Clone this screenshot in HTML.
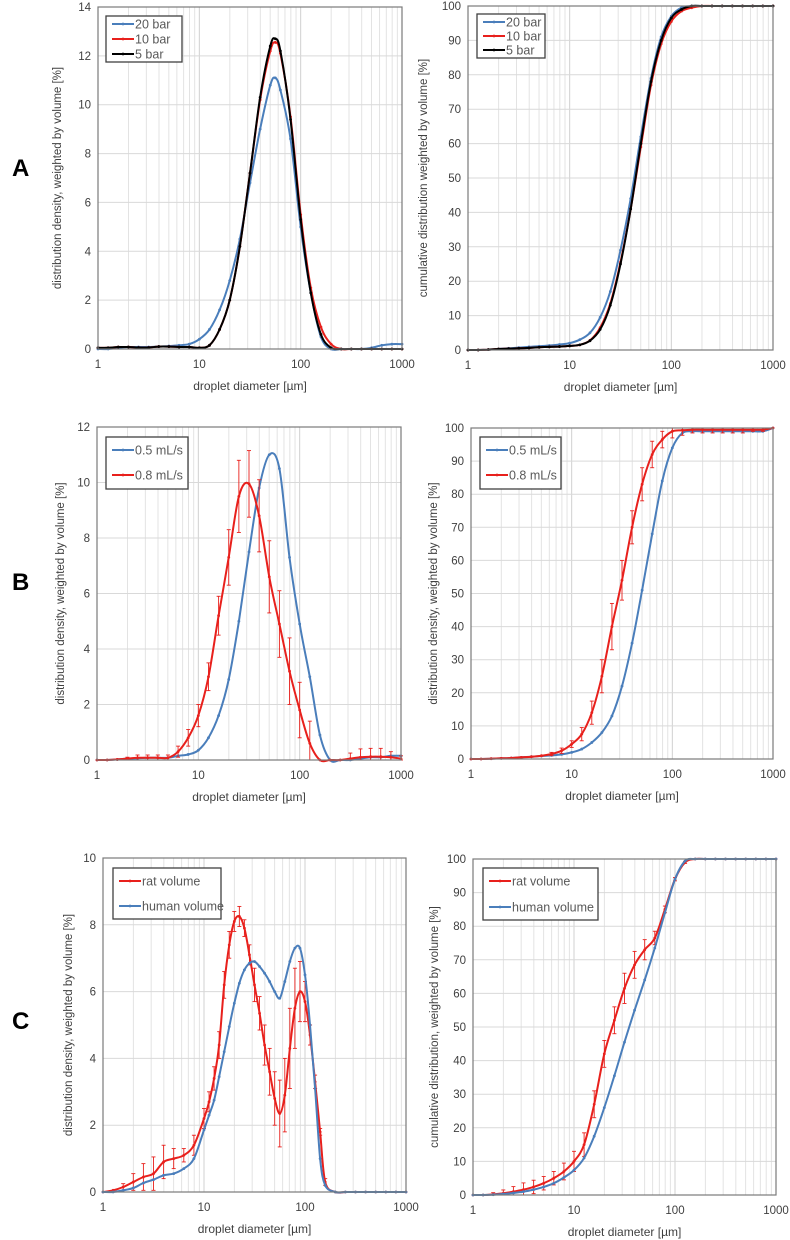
<!DOCTYPE html>
<html><head><meta charset="utf-8">
<style>
body{margin:0;background:#fff;}
svg{display:block;font-family:"Liberation Sans",sans-serif;}
</style></head>
<body>
<svg id="fig" width="790" height="1240" viewBox="0 0 790 1240" xmlns="http://www.w3.org/2000/svg">
<text x="12" y="176" font-size="24" font-weight="bold">A</text>
<text x="12" y="590" font-size="24" font-weight="bold">B</text>
<text x="12" y="1029" font-size="24" font-weight="bold">C</text>
</svg>
<script>
// ---------- data (x in log10 of droplet diameter [µm]) ----------
const logD_A1 = [0,.1,.2,.3,.4,.5,.6,.7,.8,.9,1.0,1.1,1.2,1.3,1.4,1.5,1.6,1.7,1.75,1.8,1.9,2.0,2.1,2.2,2.3,2.4,2.5,2.6,2.7,2.8,2.9,3.0];
const a1_20bar = [0,0,.05,.08,.08,.08,.1,.12,.15,.2,.4,.8,1.6,2.8,4.5,6.8,9.0,10.8,11.1,10.6,8.6,5.0,2.3,.5,0,0,0,0,.05,.15,.2,.2];
const a1_10bar = [.05,.05,.08,.08,.06,.06,.1,.1,.08,.08,.05,.15,.8,2.0,4.2,7.2,10.2,12.2,12.55,12.1,9.5,5.5,2.5,.9,.2,0,0,0,0,0,0,0];
const a1_5bar  = [.05,.05,.08,.08,.06,.06,.1,.1,.08,.08,.05,.15,.8,2.0,4.2,7.2,10.3,12.4,12.7,12.2,9.4,5.3,2.3,.6,.05,0,0,0,0,0,0,0];

const logD = [0,.1,.2,.3,.4,.5,.6,.7,.8,.9,1.0,1.1,1.2,1.3,1.4,1.5,1.6,1.7,1.8,1.9,2.0,2.1,2.2,2.3,2.4,2.5,2.6,2.7,2.8,2.9,3.0];
const a2_20bar = [0,0,.1,.3,.5,.7,.9,1.1,1.3,1.6,2.0,3.0,5.0,9.5,17,29,44,62,79,91,97,99.5,100,100,100,100,100,100,100,100,100];
const a2_10bar = [0,0,.1,.3,.4,.5,.6,.8,.9,1.0,1.2,1.5,2.8,6.5,13.5,25.5,41,59,77,89,95.5,98.5,99.5,100,100,100,100,100,100,100,100];
const a2_5bar  = [0,0,.1,.3,.4,.5,.6,.8,.9,1.0,1.2,1.5,2.7,6,13,25,41,60,78,90,96.5,99,100,100,100,100,100,100,100,100,100];

const b1_05 = [0,0,.02,.05,.06,.08,.08,.08,.15,.2,.35,.8,1.6,2.9,5.0,7.5,9.8,11.0,10.5,7.3,4.9,3.0,.9,0,0,0,.05,.1,.1,.15,.15];
const b1_08 = [0,0,.02,.05,.08,.08,.08,.08,.3,.8,1.6,3.0,5.2,7.3,9.5,9.95,8.8,6.6,4.9,3.2,1.8,.6,0,0,0,.05,.1,.12,.12,.1,.05];
const b1_08err = [0,0,0,.05,.1,.1,.1,.1,.2,.3,.4,.5,.7,1.0,1.3,1.2,1.3,1.3,1.2,1.2,1.0,.8,0,0,0,.2,.3,.3,.3,.2,.1];

const b2_05 = [0,0,.1,.2,.3,.5,.7,.9,1.1,1.4,2,3,5,8,13,22,35,51,68,84,94,98.5,99,99,99,99,99,99,99,99,100];
const b2_08 = [0,0,.1,.2,.3,.5,.7,1.0,1.5,2.5,4.5,7.5,14,25,40,54,70,83,92,96.5,99,99.3,99.5,99.5,99.5,99.5,99.5,99.5,99.5,99.5,100];
const b2_08err = [0,0,0,0,0,0,0,0,.5,.8,1,2,3.5,5,7,6,5,5,4,2.5,2,1.5,1,1,1,1,1,1,.5,.5,0];

const logD_C1 = [0,.1,.2,.3,.4,.5,.6,.7,.8,.9,1.0,1.05,1.1,1.15,1.2,1.25,1.3,1.35,1.4,1.45,1.5,1.55,1.6,1.65,1.7,1.75,1.8,1.85,1.9,1.95,2.0,2.05,2.1,2.15,2.2,2.3,2.4,2.5,2.6,2.7,2.8,2.9,3.0];
const c1_rat   = [0,.05,.15,.3,.45,.55,.9,1.0,1.1,1.4,2.2,2.7,3.4,4.4,6.2,7.4,8.1,8.25,7.9,7.1,6.2,5.35,4.4,3.6,2.8,2.35,2.9,4.3,5.5,6.0,5.7,4.7,3.3,1.8,.3,0,0,0,0,0,0,0,0];
const c1_human = [0,0,.05,.12,.27,.37,.5,.55,.7,1.0,1.86,2.3,2.75,3.45,4.2,4.95,5.65,6.25,6.65,6.85,6.9,6.75,6.55,6.3,6.0,5.8,6.3,6.9,7.3,7.3,6.5,5.0,3.1,1.0,.2,0,0,0,0,0,0,0,0];
const c1_raterr = [0,0,.1,.25,.4,.5,.5,.3,.2,.3,.3,.3,.35,.4,.4,.4,.3,.3,.25,.3,.5,.5,.6,.7,.8,1.0,1.1,1.2,1.2,.9,.6,.3,.2,.1,.1,0,0,0,0,0,0,0,0];

const c2_rat   = [0,0,.2,.5,1.0,1.6,2.4,3.5,5,7,10,15,27,42,52,61.5,68.5,73,76.5,85,94,99,100,100,100,100,100,100,100,100,100];
const c2_human = [0,0,.1,.3,.6,1.0,1.6,2.4,3.5,5.2,7.4,11,17.5,26,35.5,45.5,55,64,73.5,84,94,99.4,100,100,100,100,100,100,100,100,100];
const c2_raterr = [0,0,.5,1,1.5,2,2,2,2,2.5,3,3.5,4,4,4,4.5,4,3,2,1,.5,.3,0,0,0,0,0,0,0,0,0];

const xTickLabels = ["1","10","100","1000"];
const BLUE="#4a7ebb", RED="#e8201c", BLACK="#000";

// ---------- drawing ----------
const svg=document.getElementById('fig');
const NS="http://www.w3.org/2000/svg";
function mk(tag,attrs,parent){const e=document.createElementNS(NS,tag);for(const k in attrs)e.setAttribute(k,attrs[k]);(parent||svg).appendChild(e);return e;}
function smoothPath(pts){
  let d="M"+pts[0][0].toFixed(1)+","+pts[0][1].toFixed(1);
  for(let i=0;i<pts.length-1;i++){
    const p0=pts[i-1]||pts[i],p1=pts[i],p2=pts[i+1],p3=pts[i+2]||p2;
    const c1=[p1[0]+(p2[0]-p0[0])/6,p1[1]+(p2[1]-p0[1])/6];
    const c2=[p2[0]-(p3[0]-p1[0])/6,p2[1]-(p3[1]-p1[1])/6];
    d+=" C"+c1[0].toFixed(1)+","+c1[1].toFixed(1)+" "+c2[0].toFixed(1)+","+c2[1].toFixed(1)+" "+p2[0].toFixed(1)+","+p2[1].toFixed(1);
  }
  return d;
}
function panel(cfg){
  const g=mk('g',{});
  
  
  const {x0,x1,yt,yb,ymax,ystep}=cfg;
  const X=v=>x0+(x1-x0)*v/3;
  const Y=v=>yb-(yb-yt)*v/ymax;
  // grid
  for(let dec=0;dec<3;dec++){for(let m=2;m<=9;m++){const x=X(dec+Math.log10(m));
    mk('line',{x1:x,x2:x,y1:yt,y2:yb,stroke:"#e3e3e3","stroke-width":1},g);}}
  for(let dec=1;dec<3;dec++){const x=X(dec);mk('line',{x1:x,x2:x,y1:yt,y2:yb,stroke:"#d0d0d0","stroke-width":1},g);}
  for(let v=ystep;v<ymax;v+=ystep){const y=Y(v);mk('line',{x1:x0,x2:x1,y1:y,y2:y,stroke:"#d9d9d9","stroke-width":1},g);}
  // y ticks
  for(let v=0;v<=ymax+1e-9;v+=ystep){const t=mk('text',{x:x0-7,y:Y(v)+4,"font-size":11.5,fill:"#404040","text-anchor":"end"},g);t.textContent=String(Math.round(v));
    
    }
  xTickLabels.forEach((s,i)=>{const t=mk('text',{x:X(i),y:yb+19,"font-size":11.5,fill:"#404040","text-anchor":"middle"},g);t.textContent=s;
    
    });
  const xt=mk('text',{x:(x0+x1)/2,y:yb+41,"font-size":12,fill:"#404040","text-anchor":"middle"},g);xt.textContent="droplet diameter [µm]";
  
  
  const yc=(yt+yb)/2, yx=x0-cfg.ytOff;
  const yl=mk('text',{x:yx,y:yc,"font-size":11.5,fill:"#404040","text-anchor":"middle",transform:`rotate(-90 ${yx} ${yc})`},g);yl.textContent=cfg.ytitle;
  
  
  // series
  cfg.series.forEach(s=>{
    const sg=mk('g',{},g);
    
    
    const pts=s.xs.map((lx,i)=>[X(lx),Y(s.ys[i])]);
    if(s.err){s.xs.forEach((lx,i)=>{const e=s.err[i];if(!e)return;const x=X(lx),ya=Y(Math.min(ymax,s.ys[i]+e)),yb2=Y(Math.max(0,s.ys[i]-e));
      mk('line',{x1:x,x2:x,y1:ya,y2:yb2,stroke:s.color,"stroke-width":0.9},sg);
      mk('line',{x1:x-2,x2:x+2,y1:ya,y2:ya,stroke:s.color,"stroke-width":0.9},sg);
      mk('line',{x1:x-2,x2:x+2,y1:yb2,y2:yb2,stroke:s.color,"stroke-width":0.9},sg);});}
    mk('path',{d:smoothPath(pts),fill:"none",stroke:s.color,"stroke-width":2},sg);
    pts.forEach(p=>mk('circle',{cx:p[0],cy:p[1],r:1.4,fill:s.color},sg));
  });
  mk('rect',{x:x0,y:yt,width:x1-x0,height:yb-yt,fill:"none",stroke:"#7a7a7a","stroke-width":1.2},g);
  // legend
  const L=cfg.legend;
  const lg=mk('g',{},g);
  
  
  mk('rect',{x:L.x,y:L.y,width:L.w,height:L.h,fill:"#fff",stroke:"#404040","stroke-width":1.3},lg);
  cfg.series.forEach((s,i)=>{const cy=L.y+L.pad+i*L.gap;
    const eg=mk('g',{},lg);
    
    
    mk('line',{x1:L.x+6,x2:L.x+28,y1:cy,y2:cy,stroke:s.color,"stroke-width":2},eg);
    mk('circle',{cx:L.x+17,cy:cy,r:1.4,fill:s.color},eg);
    const t=mk('text',{x:L.x+29,y:cy+4.5,"font-size":12.5,fill:"#595959"},eg);t.textContent=s.label;});
}
const tA="distribution density, weighted by volume [%]";
panel({name:"chart-a-density",x0:98,x1:402,yt:7,yb:349,ymax:14,ystep:2,ytOff:37,ytitle:tA,
  legend:{x:106,y:16,w:76,h:46,pad:8,gap:15},
  series:[{name:"series-20-bar",label:"20 bar",color:BLUE,xs:logD_A1,ys:a1_20bar},
          {name:"series-10-bar",label:"10 bar",color:RED,xs:logD_A1,ys:a1_10bar},
          {name:"series-5-bar",label:"5 bar",color:BLACK,xs:logD_A1,ys:a1_5bar}]});
panel({name:"chart-a-cumulative",x0:468,x1:773,yt:6,yb:350,ymax:100,ystep:10,ytOff:41,ytitle:"cumulative distribution weighted by volume [%]",
  legend:{x:477,y:14,w:68,h:44,pad:8,gap:14},
  series:[{name:"series-20-bar",label:"20 bar",color:BLUE,xs:logD,ys:a2_20bar},
          {name:"series-10-bar",label:"10 bar",color:RED,xs:logD,ys:a2_10bar},
          {name:"series-5-bar",label:"5 bar",color:BLACK,xs:logD,ys:a2_5bar}]});
panel({name:"chart-b-density",x0:97,x1:401,yt:427,yb:760,ymax:12,ystep:2,ytOff:33,ytitle:tA,
  legend:{x:106,y:437,w:82,h:52,pad:13,gap:25},
  series:[{name:"series-0.5-ml-s",label:"0.5 mL/s",color:BLUE,xs:logD,ys:b1_05},
          {name:"series-0.8-ml-s",label:"0.8 mL/s",color:RED,xs:logD,ys:b1_08,err:b1_08err}]});
panel({name:"chart-b-cumulative",x0:471,x1:773,yt:428,yb:759,ymax:100,ystep:10,ytOff:34,ytitle:tA,
  legend:{x:480,y:437,w:81,h:52,pad:13,gap:25},
  series:[{name:"series-0.5-ml-s",label:"0.5 mL/s",color:BLUE,xs:logD,ys:b2_05},
          {name:"series-0.8-ml-s",label:"0.8 mL/s",color:RED,xs:logD,ys:b2_08,err:b2_08err}]});
panel({name:"chart-c-density",x0:103,x1:406,yt:858,yb:1192,ymax:10,ystep:2,ytOff:31,ytitle:tA,
  legend:{x:113,y:868,w:108,h:51,pad:13,gap:25},
  series:[{name:"series-rat-volume",label:"rat volume",color:RED,xs:logD_C1,ys:c1_rat,err:c1_raterr},
          {name:"series-human-volume",label:"human volume",color:BLUE,xs:logD_C1,ys:c1_human}]});
panel({name:"chart-c-cumulative",x0:473,x1:776,yt:859,yb:1195,ymax:100,ystep:10,ytOff:35,ytitle:"cumulative distribution, weighted by volume [%]",
  legend:{x:483,y:868,w:115,h:52,pad:13,gap:26},
  series:[{name:"series-rat-volume",label:"rat volume",color:RED,xs:logD,ys:c2_rat,err:c2_raterr},
          {name:"series-human-volume",label:"human volume",color:BLUE,xs:logD,ys:c2_human}]});
</script>
</body></html>
